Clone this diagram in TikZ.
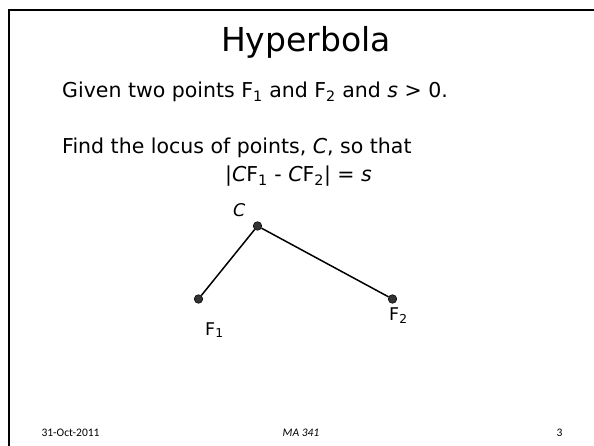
\documentclass[tikz,border=0pt]{standalone}
\usepackage{fontspec}
\setmainfont{DejaVu Sans}
\newfontfamily\footfont{Carlito}
\begin{document}
\begin{tikzpicture}[x=1pt,y=-1pt,
  frame/.style={line width=2.6pt,black},
  titletext/.style={font=\fontsize{33}{40}\selectfont,inner sep=0pt,anchor=base},
  bodytext/.style={font=\fontsize{20.5}{24}\selectfont,inner sep=0pt,anchor=base west},
  labeltext/.style={font=\fontsize{17.5}{20}\selectfont,inner sep=0pt,anchor=base west},
  foottext/.style={font=\footfont\fontsize{11.5}{13}\selectfont,inner sep=0pt,anchor=base},
  pointdot/.style={circle,fill=black!80,draw=black,line width=0.6pt,inner sep=0pt,minimum size=8.5pt},
  seg/.style={line width=1.5pt,black}]
\useasboundingbox (0,0) rectangle (594,446);
\fill[white] (0,0) rectangle (594,446);
\coordinate (tl) at (9,10);
\coordinate (tr) at (594,10);
\coordinate (bl) at (9,446);
\draw[frame] (tr) -- (tl) -- (bl);
\node[titletext] (title) at (306,52) {Hyperbola};
\node[bodytext] (given) at (62,98) {Given two points F\textsubscript{1} and F\textsubscript{2} and \textit{s} > 0.};
\node[bodytext] (find) at (62,154) {Find the locus of points, \textit{C}, so that};
\node[bodytext] (formula) at (225,182) {|\textit{C}F\textsubscript{1} - \textit{C}F\textsubscript{2}| = \textit{s}};
\node[pointdot] (C) at (257.5,226) {};
\node[pointdot] (F1) at (198.5,299) {};
\node[pointdot] (F2) at (392.5,299) {};
\draw[seg] (F1) -- (C) -- (F2);
\node[labeltext] (Clab) at (233,217) {\textit{C}};
\node[labeltext] (F1lab) at (205,335) {F\textsubscript{1}};
\node[labeltext] (F2lab) at (389,320) {F\textsubscript{2}};
\node[foottext] (date) at (70.5,436) {31-Oct-2011};
\node[foottext] (course) at (301,436) {\textit{MA 341}};
\node[foottext] (page) at (559.5,436) {3};
\end{tikzpicture}
\end{document}
